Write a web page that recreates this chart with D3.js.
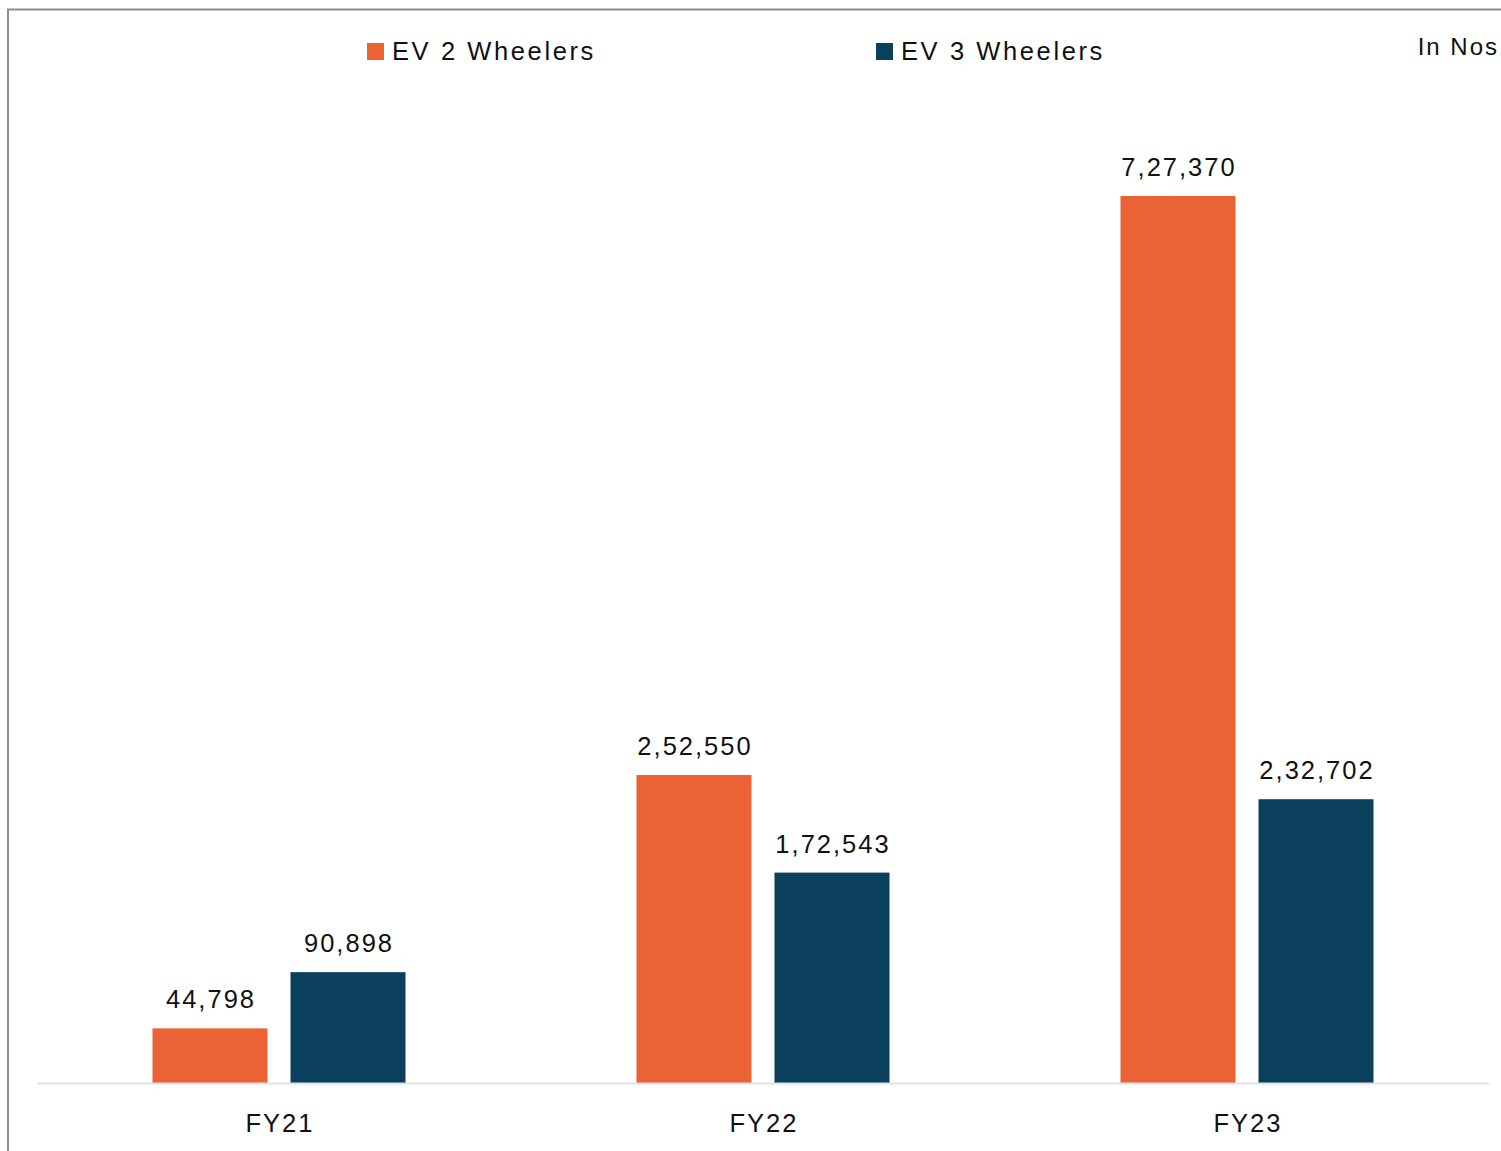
<!DOCTYPE html>
<html>
<head>
<meta charset="utf-8">
<script src="https://cdn.jsdelivr.net/npm/d3@7"></script>
<style>
  html, body { margin: 0; padding: 0; background: #fff; }
  svg { display: block; }
  text { font-family: "Liberation Sans", Arial, sans-serif; fill: #111; letter-spacing: 2px; }
</style>
</head>
<body>
<svg id="chart" width="1501" height="1151"></svg>
<script>
// EV sales by fiscal year (in numbers)
const categories = ["FY21", "FY22", "FY23"];
const seriesNames = ["EV 2 Wheelers", "EV 3 Wheelers"];
const twoWheelers = [44798, 252550, 727370];
const threeWheelers = [90898, 172543, 232702];
const seriesColors = ["#EB6334", "#0A405B"];

const rows = categories.map((c, i) => ({ cat: c, values: [twoWheelers[i], threeWheelers[i]] }));

const svg = d3.select("#chart");
const W = 1501, H = 1151;
const LS = 2; // letter spacing, compensated so centred labels stay centred

// frame
svg.append("line").attr("x1", 8).attr("x2", 8).attr("y1", 9).attr("y2", H)
  .attr("stroke", "#8c8c8c").attr("stroke-width", 2);
svg.append("line").attr("x1", 7).attr("x2", W).attr("y1", 9.5).attr("y2", 9.5)
  .attr("stroke", "#8c8c8c").attr("stroke-width", 2);

const x0 = d3.scaleBand().domain(categories).range([37, 1489]).paddingInner(0).paddingOuter(0);
const groupW = 253;
const x1 = d3.scaleBand().domain([0, 1]).range([0, groupW]).paddingInner(23 / 253 * 2 / (1 + 23 / 253)).paddingOuter(0);

const baseY = 1083;
const y = d3.scaleLinear().domain([0, 800000]).range([baseY, baseY - 800000 * 887 / 727370]);

const fmt = v => v.toLocaleString("en-IN");

const groups = svg.append("g").selectAll("g").data(rows).join("g")
  .attr("transform", d => `translate(${x0(d.cat) + (x0.bandwidth() - groupW) / 2},0)`);

groups.selectAll("rect").data(d => d.values.map((v, i) => ({ v, i }))).join("rect")
  .attr("x", d => x1(d.i))
  .attr("width", x1.bandwidth())
  .attr("y", d => y(d.v))
  .attr("height", d => y(0) - y(d.v))
  .attr("fill", d => seriesColors[d.i]);

groups.selectAll("text.val").data(d => d.values.map((v, i) => ({ v, i }))).join("text")
  .attr("class", "val")
  .attr("x", d => x1(d.i) + x1.bandwidth() / 2 + LS / 2)
  .attr("y", d => y(d.v) - 20)
  .attr("text-anchor", "middle")
  .attr("font-size", 25.5)
  .text(d => fmt(d.v));

// baseline
svg.append("line").attr("x1", 37).attr("x2", 1489).attr("y1", baseY + 0.5).attr("y2", baseY + 0.5)
  .attr("stroke", "#dde2e8").attr("stroke-width", 2);

// category axis labels
const xAxis = d3.axisBottom(x0).tickSize(0).tickPadding(0);
const ax = svg.append("g").attr("transform", `translate(0,${baseY})`).call(xAxis);
ax.select(".domain").remove();
ax.selectAll("text").attr("font-size", 25.5).attr("y", 49).attr("dy", 0).attr("x", LS / 2)
  .style("font-family", '"Liberation Sans", Arial, sans-serif').attr("fill", "#111");

// legend
const legendX = [367, 876];
const legend = svg.append("g").selectAll("g").data(seriesNames).join("g")
  .attr("transform", (d, i) => `translate(${legendX[i]},43)`);
legend.append("rect").attr("width", 17).attr("height", 17).attr("fill", (d, i) => seriesColors[i]);
legend.append("text").attr("x", 25).attr("y", 17).attr("font-size", 25.5).style("letter-spacing", "2.6px").text(d => d);

// unit note
svg.append("text").attr("x", 1497 + LS).attr("y", 55).attr("text-anchor", "end")
  .attr("font-size", 24).text("In Nos");
</script>
</body>
</html>
